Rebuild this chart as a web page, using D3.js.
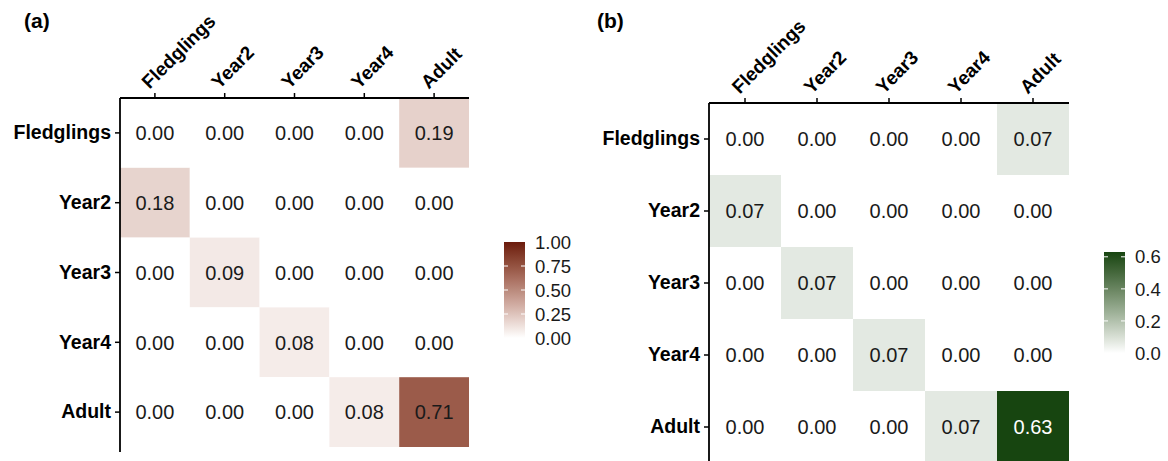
<!DOCTYPE html>
<html>
<head>
<meta charset="utf-8">
<script src="https://cdn.jsdelivr.net/npm/d3@7"></script>
<style>
  body { margin: 0; background: #fff; }
  text { font-family: "Liberation Sans", Arial, sans-serif; }
</style>
</head>
<body>
<script>
const stages = ['Fledglings', 'Year2', 'Year3', 'Year4', 'Adult']

// rows = from-stage (y), cols = to-stage (x)
const matrixA = [
  [0.00, 0.00, 0.00, 0.00, 0.19],
  [0.18, 0.00, 0.00, 0.00, 0.00],
  [0.00, 0.09, 0.00, 0.00, 0.00],
  [0.00, 0.00, 0.08, 0.00, 0.00],
  [0.00, 0.00, 0.00, 0.08, 0.71]
]
const matrixB = [
  [0.00, 0.00, 0.00, 0.00, 0.07],
  [0.07, 0.00, 0.00, 0.00, 0.00],
  [0.00, 0.07, 0.00, 0.00, 0.00],
  [0.00, 0.00, 0.07, 0.00, 0.00],
  [0.00, 0.00, 0.00, 0.07, 0.63]
]
const legendTicksA = [0, 0.25, 0.5, 0.75, 1]
const legendTicksB = [0, 0.2, 0.4, 0.6]

const width = 1168, height = 461

const svg = d3.select('body').append('svg')
  .attr('width', width)
  .attr('height', height)

const defs = svg.append('defs')

function drawPanel(opt) {
  const g = svg.append('g')
  const x = d3.scaleBand().domain(stages).range([opt.left, opt.left + opt.cell * 5])
  const y = d3.scaleBand().domain(stages).range([opt.top, opt.top + opt.cell * 5])
  const color = d3.scaleLinear().domain(opt.domain).range(['#ffffff', opt.high])
    .interpolate(d3.interpolateLab)

  const cells = []
  opt.matrix.forEach((row, i) => row.forEach((v, j) =>
    cells.push({ from: stages[i], to: stages[j], v })))

  g.selectAll('rect.tile')
    .data(cells)
    .enter().append('rect')
    .attr('x', d => x(d.to))
    .attr('y', d => y(d.from))
    .attr('width', x.bandwidth())
    .attr('height', y.bandwidth())
    .attr('fill', d => color(d.v))

  g.selectAll('text.val')
    .data(cells)
    .enter().append('text')
    .attr('x', d => x(d.to) + x.bandwidth() / 2)
    .attr('y', d => y(d.from) + y.bandwidth() / 2)
    .attr('dy', '0.36em')
    .attr('text-anchor', 'middle')
    .attr('font-size', 20)
    .attr('fill', d => d.v > opt.whiteAbove ? '#ffffff' : '#1a1a1a')
    .text(d => d.v.toFixed(2))

  // top axis
  const xAxis = g.append('g')
    .attr('transform', `translate(0,${opt.top})`)
    .call(d3.axisTop(x).tickSize(5).tickSizeOuter(0).tickPadding(4))
  xAxis.select('.domain').attr('stroke-width', 1.8).attr('d', `M${opt.left},0H${opt.left + opt.cell * 5}`)
  xAxis.selectAll('.tick line').attr('stroke-width', 1.5)
  xAxis.selectAll('.tick text')
    .attr('font-size', 19)
    .attr('font-weight', 'bold')
    .attr('fill', '#000')
    .attr('text-anchor', 'start')
    .attr('transform', 'translate(-3,-6) rotate(-45)')
    .attr('dy', '0.3em')

  // left axis
  const yAxis = g.append('g')
    .attr('transform', `translate(${opt.left},0)`)
    .call(d3.axisLeft(y).tickSize(5).tickSizeOuter(0).tickPadding(4))
  yAxis.select('.domain').attr('stroke-width', 1.8).attr('d', `M0,${opt.top}V${opt.bottom}`)
  yAxis.selectAll('.tick line').attr('stroke-width', 1.5)
  yAxis.selectAll('.tick text')
    .attr('font-size', 19.5)
    .attr('font-weight', 'bold')
    .attr('fill', '#000')

  // panel tag
  svg.append('text')
    .attr('x', opt.tagX).attr('y', 28)
    .attr('font-size', 21).attr('font-weight', 'bold')
    .text(opt.tag)

  // colour bar
  const gradId = 'grad-' + opt.tag.replace(/\W/g, '')
  const grad = defs.append('linearGradient').attr('id', gradId)
    .attr('x1', 0).attr('y1', 1).attr('x2', 0).attr('y2', 0)
  d3.range(0, 1.0001, 0.1).forEach(t => {
    grad.append('stop').attr('offset', t)
      .attr('stop-color', color(opt.domain[0] + t * (opt.domain[1] - opt.domain[0])))
  })
  const ly = d3.scaleLinear().domain(opt.domain).range([opt.legBottom, opt.legTop])
  const leg = svg.append('g')
  leg.append('rect')
    .attr('x', opt.legX).attr('y', opt.legTop)
    .attr('width', 21).attr('height', opt.legBottom - opt.legTop)
    .attr('fill', `url(#${gradId})`)
  leg.selectAll('line.tl')
    .data(opt.legendTicks.filter(t => t > opt.domain[0] && t < opt.domain[1]))
    .enter().append('g')
    .each(function (t) {
      const s = d3.select(this)
      s.append('line').attr('x1', opt.legX).attr('x2', opt.legX + 4)
        .attr('y1', ly(t)).attr('y2', ly(t)).attr('stroke', '#fff').attr('stroke-width', 1)
      s.append('line').attr('x1', opt.legX + 17).attr('x2', opt.legX + 21)
        .attr('y1', ly(t)).attr('y2', ly(t)).attr('stroke', '#fff').attr('stroke-width', 1)
    })
  leg.selectAll('text.ll')
    .data(opt.legendTicks)
    .enter().append('text')
    .attr('x', opt.legX + 31)
    .attr('y', t => ly(t))
    .attr('dy', '0.36em')
    .attr('font-size', 18.5)
    .attr('fill', '#1a1a1a')
    .text(t => opt.legendFormat(t))
}

drawPanel({
  tag: '(a)', tagX: 24,
  matrix: matrixA, domain: [0, 1], high: '#6b1a0c',
  left: 120, top: 98, cell: 69.8, bottom: 452, whiteAbove: 0.8,
  legX: 504, legTop: 242, legBottom: 338,
  legendTicks: legendTicksA, legendFormat: d3.format('.2f')
})

drawPanel({
  tag: '(b)', tagX: 597,
  matrix: matrixB, domain: [0, 0.63], high: '#174510',
  left: 709, top: 103, cell: 72, bottom: 470, whiteAbove: 0.5,
  legX: 1104, legTop: 252, legBottom: 353,
  legendTicks: legendTicksB, legendFormat: d3.format('.1f')
})
</script>
</body>
</html>
